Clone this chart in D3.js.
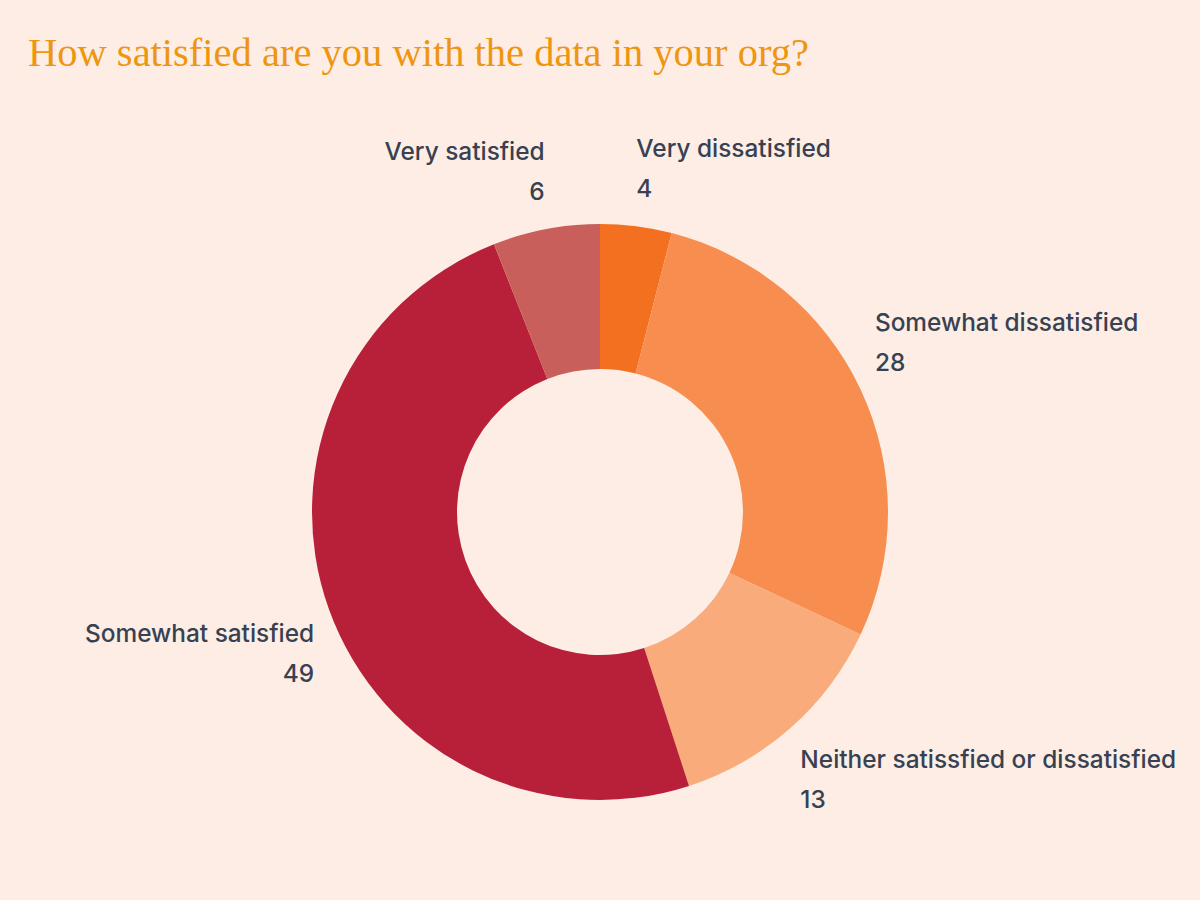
<!DOCTYPE html>
<html lang="en">
<head>
    <meta charset="UTF-8">
    <title>How satisfied are you with the data in your org?</title>
    <script src="https://d3js.org/d3.v7.min.js"></script>
    <style>
        html, body {
            margin: 0;
            padding: 0;
            background: #fdede4;
        }
        .title {
            font-family: "Liberation Serif", "DejaVu Serif", serif;
            fill: #ee960f;
        }
        .label text {
            font-family: Inter, "Noto Sans", sans-serif;
            font-size: 24.4px;
            font-weight: 500;
            fill: #374151;
        }
    </style>
</head>
<body>
<div id="chart"></div>

<script>
    // Survey answers, clockwise from 12 o'clock
    const categories = [
        "Very dissatisfied",
        "Somewhat dissatisfied",
        "Neither satissfied or dissatisfied",
        "Somewhat satisfied",
        "Very satisfied"
    ];
    const values = [4, 28, 13, 49, 6];
    const colors = ["#f37021", "#f78d4e", "#f9ab7b", "#b8203a", "#c85f5b"];

    const width = 1200;
    const height = 900;
    const cx = 600, cy = 512;
    const outerR = 288, innerR = 143, labelR = 306;

    const svg = d3.select("#chart").append("svg")
        .attr("width", width)
        .attr("height", height);

    svg.append("rect")
        .attr("width", width)
        .attr("height", height)
        .attr("fill", "#fdede4");

    svg.append("text")
        .attr("class", "title")
        .attr("x", 28)
        .attr("y", 66)
        .attr("font-size", 40.5)
        .text("How satisfied are you with the data in your org?");

    const data = categories.map((c, i) => ({ name: c, value: values[i], color: colors[i] }));

    const pie = d3.pie()
        .value(d => d.value)
        .sort(null);

    const arcs = pie(data);

    const arc = d3.arc().innerRadius(innerR).outerRadius(outerR);
    const labelArc = d3.arc().innerRadius(labelR).outerRadius(labelR);

    const g = svg.append("g").attr("transform", `translate(${cx},${cy})`);

    g.selectAll("path")
        .data(arcs)
        .enter().append("path")
        .attr("d", arc)
        .attr("fill", d => d.data.color);

    // labels: name + value, anchored on the mid-angle point
    const labels = g.selectAll("g.label")
        .data(arcs)
        .enter().append("g")
        .attr("class", "label")
        .attr("transform", d => `translate(${labelArc.centroid(d)})`);

    labels.each(function(d) {
        const mid = (d.startAngle + d.endAngle) / 2;
        const right = mid < Math.PI;
        const top = Math.cos(mid) > 0;
        const anchor = right ? "start" : "end";
        const dx = right ? -2 : 2;
        // top half: block sits above the point, bottom half: below
        const y1 = top ? -51 : 26;
        const sel = d3.select(this);
        sel.append("text")
            .attr("text-anchor", anchor)
            .attr("x", dx)
            .attr("y", y1)
            .text(d.data.name);
        sel.append("text")
            .attr("text-anchor", anchor)
            .attr("x", dx)
            .attr("y", y1 + 40)
            .text(d.data.value);
    });
</script>
</body>
</html>
